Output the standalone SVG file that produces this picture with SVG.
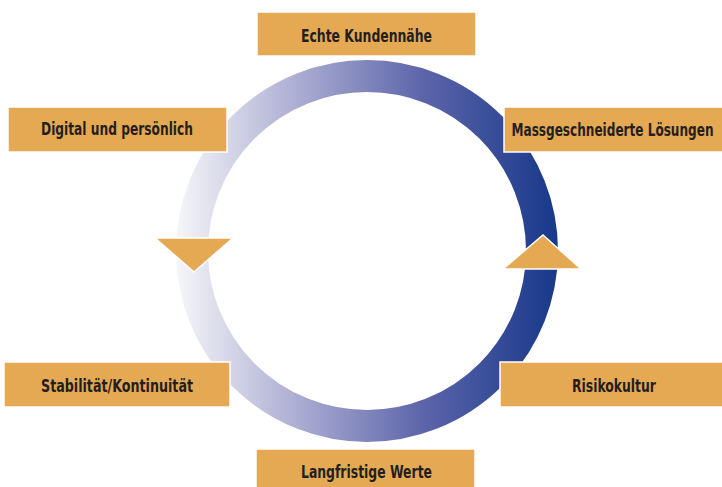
<svg xmlns="http://www.w3.org/2000/svg" width="722" height="487" viewBox="0 0 722 487">
  <defs>
    <linearGradient id="ringGrad" gradientUnits="userSpaceOnUse" x1="176" y1="0" x2="558" y2="0">
      <stop offset="0" stop-color="#f6f6f9"/>
      <stop offset="0.3" stop-color="#b0b1d4"/>
      <stop offset="0.65" stop-color="#5c64a9"/>
      <stop offset="1" stop-color="#173889"/>
    </linearGradient>
    <style>
      .box { fill: #e6a953; stroke: #ffffff; stroke-width: 1.5; }
      .lbl { font-family: "DejaVu Sans Condensed", "DejaVu Sans", "Liberation Sans", sans-serif; font-stretch: condensed; font-weight: bold; font-size: 17px; fill: #231f20; text-anchor: middle; }
      .arrow { fill: #e6a953; stroke: #ffffff; stroke-width: 1.5; }
    </style>
  </defs>
  <rect width="722" height="487" fill="#ffffff"/>
  <g id="connectors">
    <circle cx="367" cy="251" r="175" fill="none" stroke="url(#ringGrad)" stroke-width="32"/>
    <polygon class="arrow" points="155,238 233,238 194,272"/>
    <polygon class="arrow" points="543,235 581,269 503,269"/>
  </g>
  <g id="node-echte">
    <rect class="box" x="257" y="12" width="219" height="44"/>
    <text class="lbl" x="366.5" y="42" textLength="131" lengthAdjust="spacingAndGlyphs">Echte Kundennähe</text>
  </g>
  <g id="node-digital">
    <rect class="box" x="8" y="107" width="219" height="45"/>
    <text class="lbl" x="117" y="135" textLength="152" lengthAdjust="spacingAndGlyphs">Digital und persönlich</text>
  </g>
  <g id="node-mass">
    <rect class="box" x="504" y="107" width="220" height="45"/>
    <text class="lbl" x="612.5" y="136" textLength="202" lengthAdjust="spacingAndGlyphs">Massgeschneiderte Lösungen</text>
  </g>
  <g id="node-stabil">
    <rect class="box" x="4" y="362" width="226" height="45"/>
    <text class="lbl" x="117" y="392" textLength="152" lengthAdjust="spacingAndGlyphs">Stabilität/Kontinuität</text>
  </g>
  <g id="node-risiko">
    <rect class="box" x="500" y="362" width="224" height="45"/>
    <text class="lbl" x="614" y="392" textLength="84" lengthAdjust="spacingAndGlyphs">Risikokultur</text>
  </g>
  <g id="node-lang">
    <rect class="box" x="256" y="449" width="219" height="42"/>
    <text class="lbl" x="366.5" y="478" textLength="131" lengthAdjust="spacingAndGlyphs">Langfristige Werte</text>
  </g>
</svg>
